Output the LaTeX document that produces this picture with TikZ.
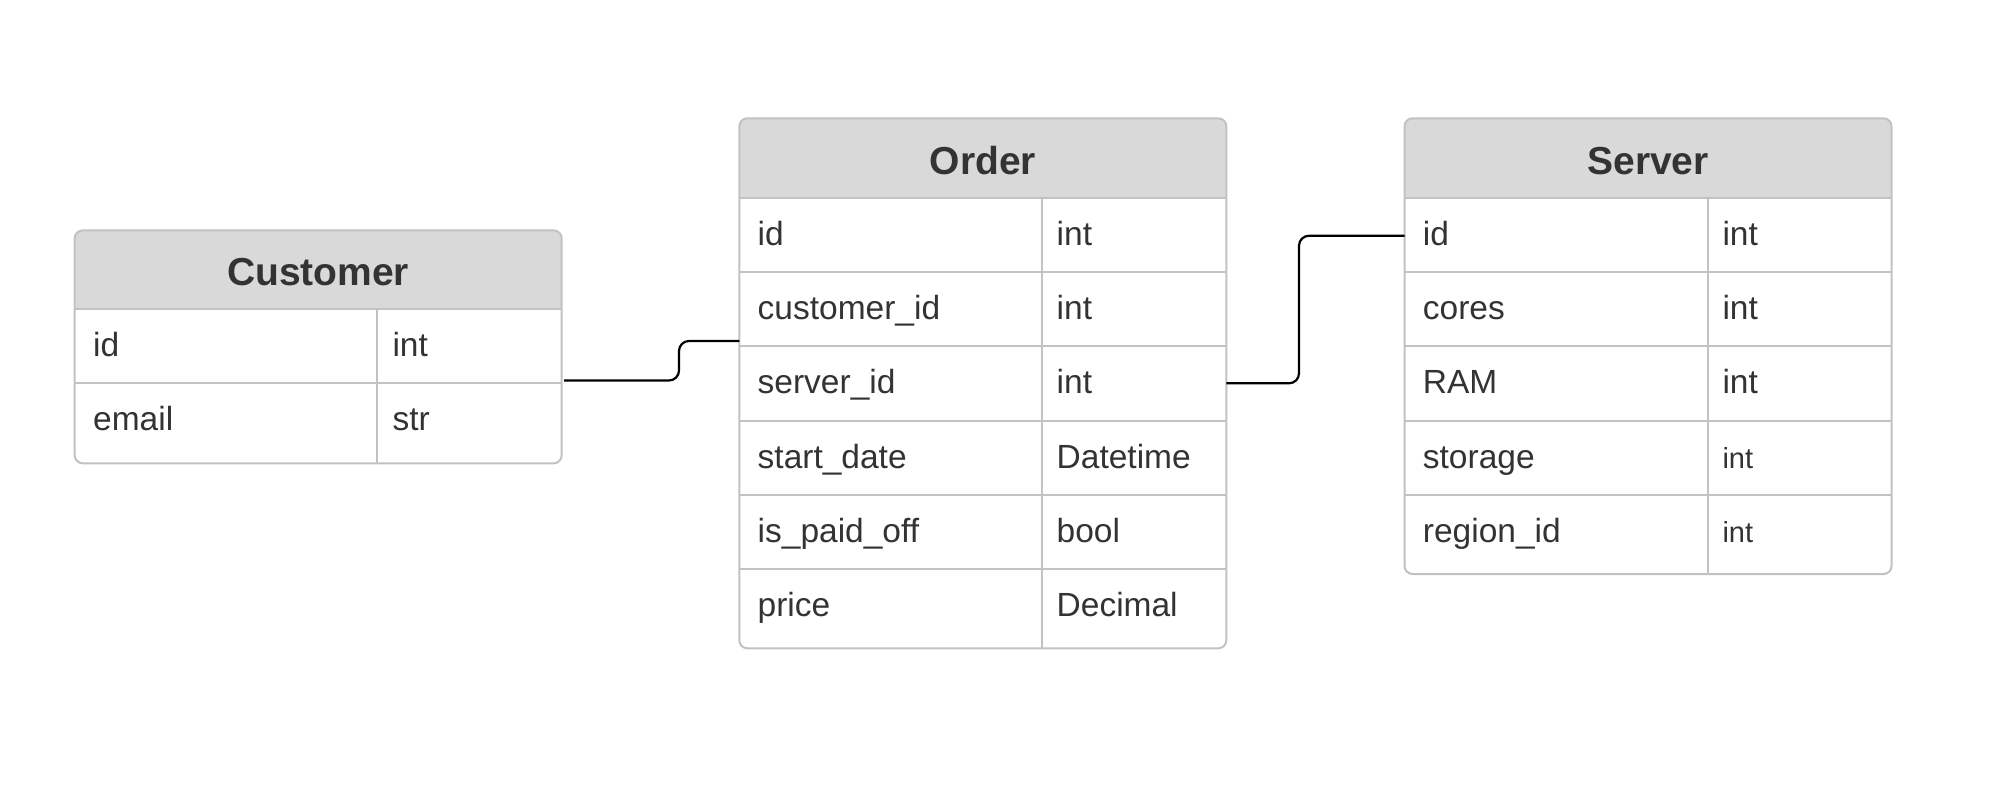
\documentclass[tikz,border=0pt]{standalone}
\usepackage{fontspec}
\setmainfont{Liberation Sans}
\definecolor{txt}{HTML}{333333}
\definecolor{bord}{HTML}{C2C2C2}
\definecolor{hdr}{HTML}{D9D9D9}
\newcommand\ertable[7]{%
  % #1 name, #2 left x, #3 top, #4 header bottom, #5 bottom, #6 divider x, #7 row lines
  \node[tframe,minimum width=487pt,minimum height={(#5-#3)*1pt}] (#1) at (#2,#3) {};
  \begin{scope}
    \clip[rounded corners=8pt] (#1.north west) rectangle (#1.south east);
    \fill[hdr] (#1.north west) rectangle (#2+487,#4);
  \end{scope}
  \foreach \yy in {#4,#7} \draw[border] (#2,\yy) -- (#2+487,\yy);
  \draw[border] (#6,#4) -- (#6,#5);
  \draw[border,rounded corners=8pt] (#1.north west) rectangle (#1.south east);
}
\begin{document}
\begin{tikzpicture}[x=1pt,y=-1pt,
  border/.style={draw=bord,line width=2pt},
  conn/.style={draw=black,line width=2.2pt,rounded corners=10pt},
  fld/.style={anchor=base west,inner sep=0pt,text=txt,font=\fontsize{33.5}{40}\selectfont},
  fldsm/.style={anchor=base west,inner sep=0pt,text=txt,font=\fontsize{29}{35}\selectfont},
  ttl/.style={anchor=base,inner sep=0pt,text=txt,font=\fontsize{39}{47}\selectfont\bfseries},
  tframe/.style={rectangle,inner sep=0pt,outer sep=0pt,anchor=north west}
]
\useasboundingbox[fill=white] (0,0) rectangle (2009,787);

% ---------- Customer ----------
\ertable{cust}{74.7}{230.4}{309}{463.3}{377.3}{383}
\node[ttl] (custT) at (318.1,285) {Customer};
\node[fld] (custN1) at (93,356.6) {id};
\node[fld] (custT1) at (392.3,356.6) {int};
\node[fld] (custN2) at (93,430.9) {email};
\node[fld] (custT2) at (392.3,430.9) {str};

% ---------- Order ----------
\ertable{ord}{739.3}{118.3}{198}{648.3}{1041.7}{272.2,346.4,420.6,494.8,569}
\node[ttl] (ordT) at (982.8,174) {Order};
\node[fld] (ordN1) at (757.5,245.5) {id};
\node[fld] (ordT1) at (1056.5,245.5) {int};
\node[fld] (ordN2) at (757.5,319.7) {customer\_id};
\node[fld] (ordT2) at (1056.5,319.7) {int};
\node[fld] (ordN3) at (757.5,393.9) {server\_id};
\node[fld] (ordT3) at (1056.5,393.9) {int};
\node[fld] (ordN4) at (757.5,468.1) {start\_date};
\node[fld] (ordT4) at (1056.5,468.1) {Datetime};
\node[fld] (ordN5) at (757.5,542.3) {is\_paid\_off};
\node[fld] (ordT5) at (1056.5,542.3) {bool};
\node[fld] (ordN6) at (757.5,616.5) {price};
\node[fld] (ordT6) at (1056.5,616.5) {Decimal};

% ---------- Server ----------
\ertable{srv}{1404.5}{118.3}{198}{574}{1707.5}{272.2,346.4,420.6,494.8}
\node[ttl] (srvT) at (1648,174) {Server};
\node[fld] (srvN1) at (1422.7,245.5) {id};
\node[fld] (srvT1) at (1722.3,245.5) {int};
\node[fld] (srvN2) at (1422.7,319.7) {cores};
\node[fld] (srvT2) at (1722.3,319.7) {int};
\node[fld] (srvN3) at (1422.7,393.9) {RAM};
\node[fld] (srvT3) at (1722.3,393.9) {int};
\node[fld] (srvN4) at (1422.7,468.1) {storage};
\node[fldsm] (srvT4) at (1722.3,468.1) {int};
\node[fld] (srvN5) at (1422.7,542.3) {region\_id};
\node[fldsm] (srvT5) at (1722.3,542.3) {int};

% ---------- Connectors ----------
\draw[conn] ([xshift=2.5pt,yshift=-33.7pt]cust.east) -- (679,380.5) |- ([yshift=42.3pt]ord.west);
\draw[conn] (ord.east) -- (1299,383.3) |- ([yshift=110.4pt]srv.west);
\end{tikzpicture}
\end{document}
